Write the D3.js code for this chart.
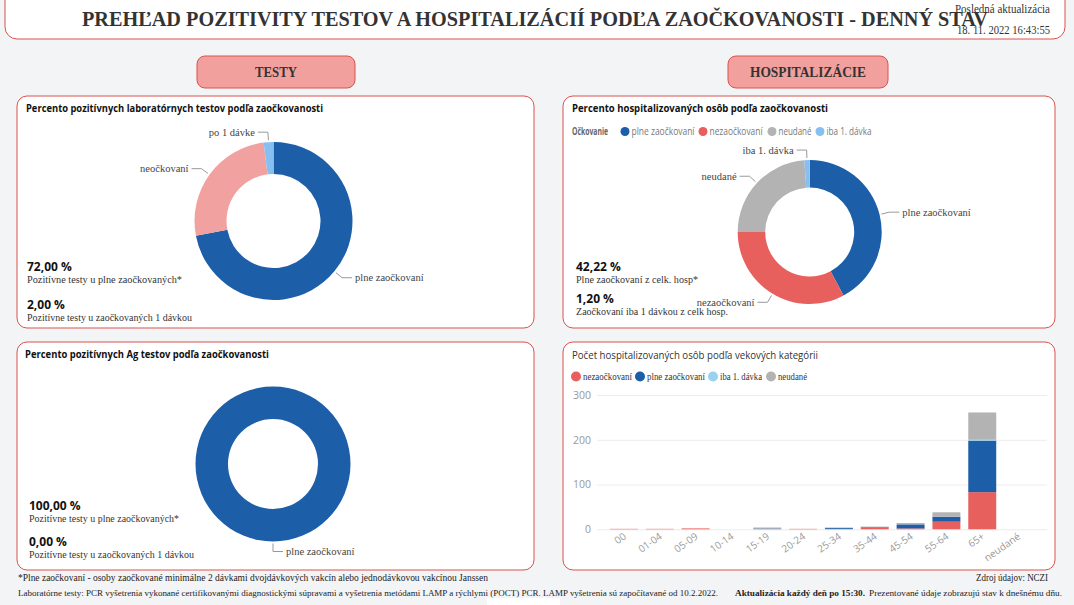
<!DOCTYPE html>
<html>
<head>
<meta charset="utf-8">
<script src="https://cdn.jsdelivr.net/npm/d3@7"></script>
<style>
  body { margin: 0; background: #f3f4f6; }
  svg { display: block; }
</style>
</head>
<body>
<div id="chart"></div>
<script>
// donut: laboratorne testy
const labCats = ["plne zaočkovaní", "neočkovaní", "po 1 dávke"];
const labVals = [72, 26, 2];
// donut: hospitalizovani
const hospCats = ["plne zaočkovaní", "nezaočkovaní", "neudané", "iba 1. dávka"];
const hospVals = [42.22, 32.78, 23.8, 1.2];
// donut: Ag testy
const agCats = ["plne zaočkovaní", "po 1 dávke"];
const agVals = [100, 0];

// stacked bars by age
const ageGroups = ["00", "01-04", "05-09", "10-14", "15-19", "20-24", "25-34", "35-44", "45-54", "55-64", "65+", "neudané"];
const barKeys = ["nezaočkovaní", "plne zaočkovaní", "iba 1. dávka", "neudané"];
const hospUnvacc  = [1, 1, 2, 0, 1, 1, 1, 4, 2, 17, 83, 0];
const hospFull    = [0, 0, 0, 0, 1, 0, 2, 1, 9, 11, 115, 0];
const hospOneDose = [0, 0, 0, 0, 0, 0, 0, 0, 0, 0, 2, 0];
const hospUnknown = [0, 0, 0, 0, 2, 0, 1, 1, 3, 10, 61, 0];
const yTicks = [0, 100, 200, 300];

const BLUE = "#1c5fa8", RED = "#e8605d", PINK = "#f1a19f", LBLUE = "#86c0f2", GREY = "#b3b3b3", CYAN = "#99d2ef";
const BORDER = "#d9534f";
const SANS = "'Open Sans', 'Noto Sans', sans-serif";
const SERIF = "'Liberation Serif', 'DejaVu Serif', serif";

const svg = d3.select("#chart").append("svg")
    .attr("width", 1074)
    .attr("height", 605);

svg.append("rect").attr("width", 1074).attr("height", 605).attr("fill", "#f3f4f6");

function txt(x, y, s, o) {
    o = o || {};
    const t = svg.append("text")
        .attr("x", x).attr("y", y)
        .attr("font-family", o.font || SERIF)
        .attr("font-size", o.size || 11)
        .attr("font-weight", o.weight || "normal")
        .attr("fill", o.fill || "#333")
        .attr("text-anchor", o.anchor || "start")
        .text(s);
    if (o.w) t.attr("textLength", o.w).attr("lengthAdjust", "spacingAndGlyphs");
    return t;
}

function box(x, y, w, h, rx, fill) {
    svg.append("rect")
        .attr("x", x).attr("y", y).attr("width", w).attr("height", h)
        .attr("rx", rx).attr("fill", fill)
        .attr("stroke", BORDER).attr("stroke-width", 1);
}

// header
box(5, -12, 1060, 51, 12, "#fff");
txt(82, 26, "PREHĽAD POZITIVITY TESTOV A HOSPITALIZÁCIÍ PODĽA ZAOČKOVANOSTI - DENNÝ STAV",
    {size: 21, weight: "bold", w: 906});
txt(955, 13, "Posledná aktualizácia", {size: 12, w: 95});
txt(957, 34, "18. 11. 2022 16:43:55", {size: 12, w: 93});

box(197, 56, 158, 32, 8, "#f2a09e");
txt(276, 77, "TESTY", {size: 14, weight: "bold", anchor: "middle", w: 42});
box(728, 56, 160, 32, 8, "#f2a09e");
txt(808, 77, "HOSPITALIZÁCIE", {size: 14, weight: "bold", anchor: "middle", w: 116});

// panels
box(17, 96, 517, 232, 10, "#fff");
box(563, 96, 492, 232, 10, "#fff");
box(17, 342, 517, 228, 10, "#fff");
box(563, 342, 492, 228, 10, "#fff");

txt(26, 112, "Percento pozitívnych laboratórnych testov podľa zaočkovanosti",
    {font: SANS, size: 10, weight: "bold", fill: "#111", w: 297});
txt(572, 112, "Percento hospitalizovaných osôb podľa zaočkovanosti",
    {font: SANS, size: 10, weight: "bold", fill: "#111", w: 256});
txt(25, 358, "Percento pozitívnych Ag testov podľa zaočkovanosti",
    {font: SANS, size: 10, weight: "bold", fill: "#111", w: 244});
txt(572, 359, "Počet hospitalizovaných osôb podľa vekových kategórii",
    {font: SANS, size: 11.5, fill: "#333", w: 246});

function donut(cx, cy, rOut, rIn, cats, vals, colors) {
    const g = svg.append("g").attr("transform", `translate(${cx},${cy})`);
    const pie = d3.pie().sort(null).value(d => d.v);
    const arcs = pie(cats.map((c, i) => ({c: c, v: vals[i], col: colors[i]})));
    const arc = d3.arc().innerRadius(rIn).outerRadius(rOut);

    g.selectAll("path")
        .data(arcs)
        .enter().append("path")
        .attr("d", arc)
        .attr("fill", d => d.data.col);

    arcs.filter(a => a.data.v > 0).forEach(a => {
        const mid = (a.startAngle + a.endAngle) / 2;
        const right = Math.sin(mid) >= -1e-6;
        const p1 = [Math.sin(mid) * (rOut + 2), -Math.cos(mid) * (rOut + 2)];
        const p2 = [Math.sin(mid) * (rOut + 10), -Math.cos(mid) * (rOut + 10)];
        const p3 = [p2[0] + (right ? 10 : -10), p2[1]];
        g.append("path")
            .attr("d", d3.line()([p1, p2, p3]))
            .attr("fill", "none")
            .attr("stroke", "#999")
            .attr("stroke-width", 1);
        g.append("text")
            .attr("x", p3[0] + (right ? 3 : -3))
            .attr("y", p2[1] + 3.5)
            .attr("text-anchor", right ? "start" : "end")
            .attr("font-family", SERIF)
            .attr("font-size", 10.5)
            .attr("fill", "#444")
            .text(a.data.c);
    });
}

donut(273.5, 221, 79, 47, labCats, labVals, [BLUE, PINK, LBLUE]);
donut(809.7, 232, 72, 44.5, hospCats, hospVals, [BLUE, RED, GREY, LBLUE]);
donut(273, 464, 77.5, 45, agCats, agVals, [BLUE, LBLUE]);

// KPI cards
function kpi(x, y, value, label, wl) {
    txt(x, y, value, {font: SANS, size: 12, weight: "bold", fill: "#111"});
    txt(x, y + 12, label, {size: 10.5, fill: "#333", w: wl});
}
kpi(27, 271, "72,00 %", "Pozitívne testy u plne zaočkovaných*", 155);
kpi(27, 309, "2,00 %", "Pozitívne testy u zaočkovaných 1 dávkou", 165);
kpi(576, 271, "42,22 %", "Plne zaočkovaní z celk. hosp*", 122);
kpi(576, 303, "1,20 %", "Zaočkovaní iba 1 dávkou z celk hosp.", 152);
kpi(29, 510, "100,00 %", "Pozitívne testy u plne zaočkovaných*", 150);
kpi(29, 546, "0,00 %", "Pozitívne testy u zaočkovaných 1 dávkou", 165);

// legend of hospital donut
txt(572, 135, "Očkovanie", {font: SANS, size: 10, weight: "bold", fill: "#666", w: 36});
const leg2 = [
    {c: "plne zaočkovaní", col: BLUE, x: 625, w: 63},
    {c: "nezaočkovaní", col: RED, x: 703, w: 53},
    {c: "neudané", col: GREY, x: 772, w: 33},
    {c: "iba 1. dávka", col: LBLUE, x: 820, w: 45}
];
leg2.forEach(l => {
    svg.append("circle").attr("cx", l.x).attr("cy", 131.5).attr("r", 4.5).attr("fill", l.col);
    txt(l.x + 6.5, 135, l.c, {font: SANS, size: 10, fill: "#777", w: l.w});
});

// legend of bar chart
const barColors = {"nezaočkovaní": RED, "plne zaočkovaní": BLUE, "iba 1. dávka": CYAN, "neudané": GREY};
const leg4 = [
    {c: "nezaočkovaní", x: 576, w: 49},
    {c: "plne zaočkovaní", x: 640, w: 58},
    {c: "iba 1. dávka", x: 713, w: 42},
    {c: "neudané", x: 771, w: 29}
];
leg4.forEach(l => {
    svg.append("circle").attr("cx", l.x).attr("cy", 376.5).attr("r", 5).attr("fill", barColors[l.c]);
    txt(l.x + 7, 380, l.c, {size: 10, fill: "#333", w: l.w});
});

// stacked bar chart
const rows = ageGroups.map((a, i) => ({
    age: a,
    "nezaočkovaní": hospUnvacc[i],
    "plne zaočkovaní": hospFull[i],
    "iba 1. dávka": hospOneDose[i],
    "neudané": hospUnknown[i]
}));
const stacked = d3.stack().keys(barKeys)(rows);

const x = d3.scaleBand().domain(ageGroups).range([606, 1036]).paddingInner(0.22).paddingOuter(0.11);
const y = d3.scaleLinear().domain([0, 300]).range([529.3, 395]);

const yAxis = svg.append("g")
    .attr("transform", "translate(597,0)")
    .call(d3.axisLeft(y).tickValues(yTicks).tickSize(-450).tickPadding(6));
yAxis.select(".domain").remove();
yAxis.selectAll("line").attr("stroke", "#ececec");
yAxis.selectAll("text").attr("font-family", SANS).attr("font-size", 10.5).attr("fill", "#999");

svg.append("g").selectAll("g")
    .data(stacked)
    .enter().append("g")
    .attr("fill", d => barColors[d.key])
    .selectAll("rect")
    .data(d => d)
    .enter().append("rect")
    .attr("x", d => x(d.data.age))
    .attr("width", x.bandwidth())
    .attr("y", d => y(d[1]))
    .attr("height", d => y(d[0]) - y(d[1]));

const xAxis = svg.append("g")
    .attr("transform", "translate(0,530)")
    .call(d3.axisBottom(x).tickSize(0));
xAxis.select(".domain").remove();
xAxis.selectAll("text")
    .attr("x", 0).attr("y", 0).attr("dy", 0)
    .attr("transform", "translate(3,8) rotate(-35)")
    .attr("text-anchor", "end")
    .attr("font-family", SANS)
    .attr("font-size", 10)
    .attr("fill", "#999");

// footer
txt(18, 581, "*Plne zaočkovaní - osoby zaočkované minimálne 2 dávkami dvojdávkových vakcín alebo jednodávkovou vakcínou Janssen",
    {size: 9.5, fill: "#222", w: 470});
txt(1048, 581, "Zdroj údajov: NCZI", {size: 9.5, fill: "#222", anchor: "end", w: 72});
txt(18, 596, "Laboratórne testy: PCR vyšetrenia vykonané certifikovanými diagnostickými súpravami a vyšetrenia metódami LAMP a rýchlymi (POCT) PCR. LAMP vyšetrenia sú započítavané od 10.2.2022.",
    {size: 9, fill: "#222", w: 700});
txt(735, 596, "Aktualizácia každý deň po 15:30.", {size: 8, weight: "bold", fill: "#222", w: 130});
txt(869, 596, "Prezentované údaje zobrazujú stav k dnešnému dňu.", {size: 8.5, fill: "#222", w: 193});

svg.append("rect").attr("x", 487).attr("y", 598).attr("width", 73).attr("height", 10).attr("fill", "#fff");
</script>
</body>
</html>
